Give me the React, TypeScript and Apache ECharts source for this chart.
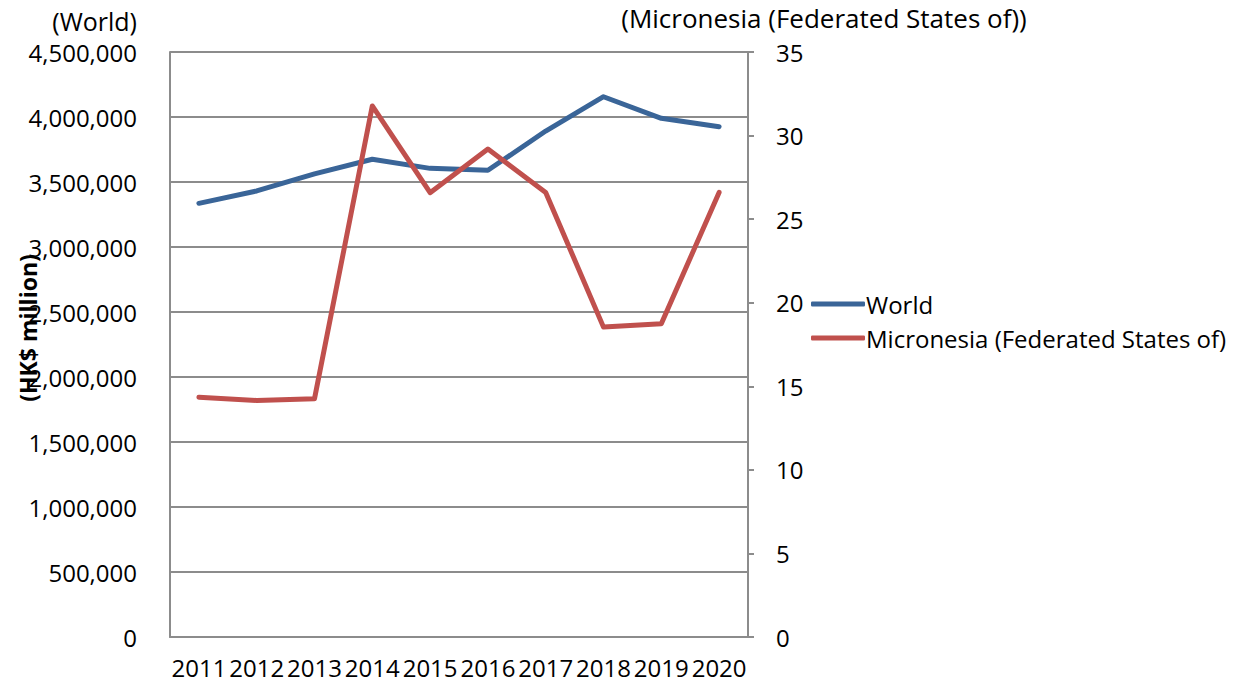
import React, { useEffect, useRef } from "react";
import * as echarts from "echarts";

const categories = ["2011", "2012", "2013", "2014", "2015", "2016", "2017", "2018", "2019", "2020"];
const worldValues = [3336000, 3431000, 3562000, 3675000, 3605000, 3590000, 3892000, 4156000, 3990000, 3925000];
const micronesiaValues = [14.35, 14.15, 14.25, 31.77, 26.58, 29.2, 26.6, 18.54, 18.74, 26.6];
const seriesNames = ["World", "Micronesia (Federated States of)"];

const FONT = "Open Sans";
const GRAY = "#8c8c8c";
const FS = 24;

export default function App() {
  const ref = useRef<HTMLDivElement>(null);
  useEffect(() => {
    if (!ref.current) return;
    const chart = echarts.init(ref.current, undefined, { renderer: "svg" });
    chart.setOption({
      animation: false,
      backgroundColor: "#ffffff",
      textStyle: { fontFamily: FONT, color: "#000" },
      grid: { left: 170, right: 494, top: 52, bottom: 49, containLabel: false },
      legend: {
        orient: "vertical",
        left: 806,
        top: 287,
        itemWidth: 54,
        itemHeight: 5,
        itemGap: 10,
        icon: "roundRect",
        textStyle: { fontFamily: FONT, fontSize: FS, color: "#000", padding: [0, 0, 0, -4] },
        data: seriesNames,
      },
      xAxis: {
        type: "category",
        data: categories,
        boundaryGap: true,
        axisLine: { show: true, lineStyle: { color: GRAY, width: 2 } },
        axisTick: { show: false },
        axisLabel: { fontFamily: FONT, fontSize: FS, color: "#000", margin: 18, interval: 0 },
      },
      yAxis: [
        {
          type: "value",
          min: 0,
          max: 4500000,
          interval: 500000,
          axisLine: { show: true, lineStyle: { color: GRAY, width: 2 } },
          axisTick: { show: false },
          splitLine: { show: true, lineStyle: { color: GRAY, width: 2 } },
          axisLabel: {
            fontFamily: FONT,
            fontSize: FS,
            lineHeight: 24,
            color: "#000",
            margin: 33,
            formatter: (v: number) => v.toLocaleString("en-US"),
          },
        },
        {
          type: "value",
          min: 0,
          max: 35,
          interval: 5,
          position: "right",
          axisLine: { show: true, lineStyle: { color: GRAY, width: 2 } },
          axisTick: { show: true, length: 6, lineStyle: { color: GRAY, width: 2 } },
          splitLine: { show: false },
          axisLabel: { fontFamily: FONT, fontSize: FS, color: "#000", margin: 28 },
        },
      ],
      series: [
        {
          name: seriesNames[0],
          type: "line",
          yAxisIndex: 0,
          data: worldValues,
          symbol: "none",
          lineStyle: { color: "#3a6598", width: 5, cap: "round", join: "round" },
          itemStyle: { color: "#3a6598" },
        },
        {
          name: seriesNames[1],
          type: "line",
          yAxisIndex: 1,
          data: micronesiaValues,
          symbol: "none",
          lineStyle: { color: "#c0504d", width: 5, cap: "round", join: "round" },
          itemStyle: { color: "#c0504d" },
        },
      ],
      graphic: [
        {
          type: "text",
          x: 137,
          y: 21,
          style: {
            text: "(World)",
            fontFamily: FONT,
            fontSize: 25,
            lineHeight: 25,
            fill: "#000",
            align: "right",
            verticalAlign: "middle",
          },
        },
        {
          type: "text",
          x: 824,
          y: 18,
          style: {
            text: "(Micronesia (Federated States of))",
            fontFamily: FONT,
            fontSize: 26,
            fill: "#000",
            align: "center",
            verticalAlign: "middle",
          },
        },
        {
          type: "text",
          x: 28,
          y: 328,
          rotation: Math.PI / 2,
          style: {
            text: "(HK$ million)",
            fontFamily: FONT,
            fontSize: 23,
            fontWeight: "bold",
            fill: "#000",
            align: "center",
            verticalAlign: "middle",
          },
        },
      ],
    });
    return () => chart.dispose();
  }, []);
  return <div ref={ref} style={{ width: 1242, height: 686, position: "absolute", left: 0, top: 0 }} />;
}
